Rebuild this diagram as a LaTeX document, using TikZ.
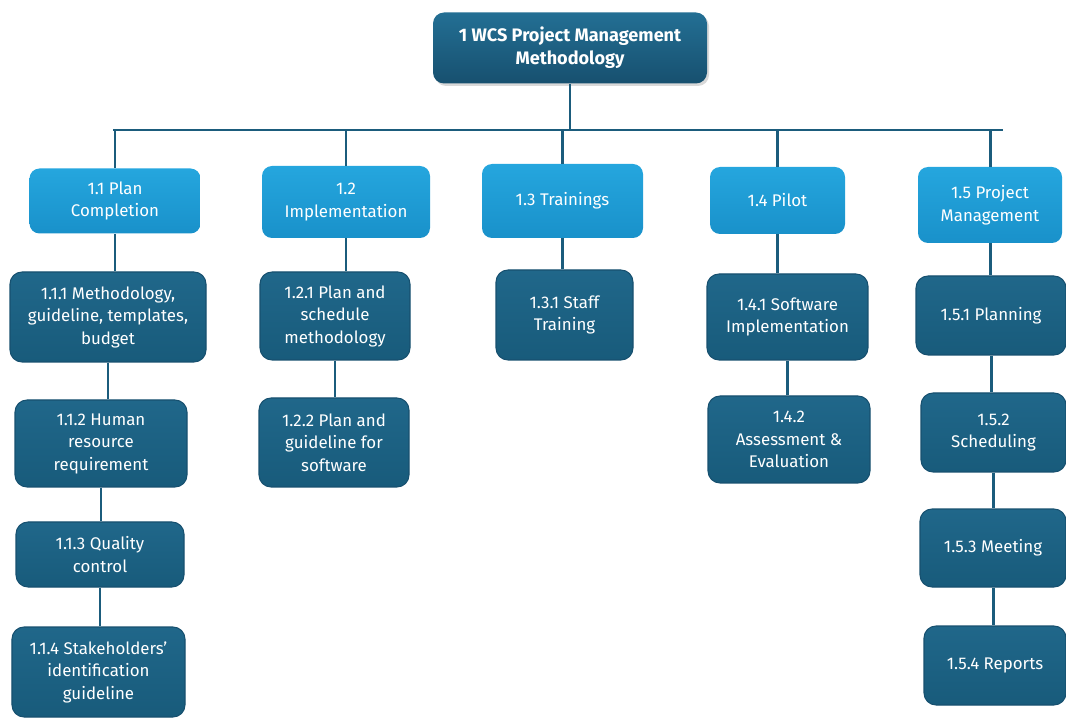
\documentclass[tikz,border=0pt]{standalone}
\usepackage{fontspec}
\setmainfont{Fira Sans}
\usetikzlibrary{shadows}
\definecolor{rootTop}{HTML}{236F94}
\definecolor{rootBot}{HTML}{17506F}
\definecolor{lightTop}{HTML}{25A6DE}
\definecolor{lightBot}{HTML}{1991CA}
\definecolor{darkTop}{HTML}{20678A}
\definecolor{darkBot}{HTML}{185B7B}
\definecolor{linkBlue}{HTML}{1B5C7C}
\tikzset{
  rootbox/.style={rounded corners=0.22cm, top color=rootTop, bottom color=rootBot,
    text=white, align=center, inner sep=0pt, font=\fontsize{10.3}{13}\selectfont\bfseries,
    drop shadow={opacity=0.3, shadow xshift=0.04cm, shadow yshift=-0.05cm}},
  lightbox/.style={rounded corners=0.2cm, top color=lightTop, bottom color=lightBot,
    text=white, align=center, inner sep=0pt, font=\fontsize{9.6}{12.8}\selectfont},
  darkbox/.style={rounded corners=0.24cm, top color=darkTop, bottom color=darkBot,
    draw=rootBot, line width=0.6pt,
    text=white, align=center, inner sep=0pt, font=\fontsize{9.6}{12.8}\selectfont},
  link/.style={draw=linkBlue, line width=1.7pt}
}
\begin{document}
\begin{tikzpicture}
\useasboundingbox (0,0) rectangle (21.32,-14.38);
% top
\node[rootbox, minimum width=5.48cm, minimum height=1.42cm] (root) at (11.40,-0.96) {1 WCS Project Management\\Methodology};
% second level
\node[lightbox, minimum width=3.42cm, minimum height=1.30cm] (p11) at (2.30,-4.02) {1.1 Plan\\Completion};
\node[lightbox, minimum width=3.36cm, minimum height=1.44cm] (p12) at (6.92,-4.04) {1.2\\Implementation};
\node[lightbox, minimum width=3.22cm, minimum height=1.48cm] (p13) at (11.25,-4.02) {1.3 Trainings};
\node[lightbox, minimum width=2.70cm, minimum height=1.34cm] (p14) at (15.55,-4.01) {1.4 Pilot};
\node[lightbox, minimum width=2.88cm, minimum height=1.52cm] (p15) at (19.80,-4.10) {1.5 Project\\Management};
% work packages
\node[darkbox, minimum width=3.92cm, minimum height=1.80cm] (c111) at (2.16,-6.34) {1.1.1 Methodology,\\guideline, templates,\\budget};
\node[darkbox, minimum width=3.44cm, minimum height=1.74cm] (c112) at (2.02,-8.87) {1.1.2 Human\\resource\\requirement};
\node[darkbox, minimum width=3.36cm, minimum height=1.30cm] (c113) at (2.00,-11.09) {1.1.3 Quality\\control};
\node[darkbox, minimum width=3.46cm, minimum height=1.80cm] (c114) at (1.97,-13.44) {1.1.4 Stakeholders’\\identification\\guideline};
\node[darkbox, minimum width=3.00cm, minimum height=1.76cm] (c121) at (6.70,-6.32) {1.2.1 Plan and\\schedule\\methodology};
\node[darkbox, minimum width=3.00cm, minimum height=1.78cm] (c122) at (6.68,-8.85) {1.2.2 Plan and\\guideline for\\software};
\node[darkbox, minimum width=2.74cm, minimum height=1.80cm] (c131) at (11.29,-6.30) {1.3.1 Staff\\Training};
\node[darkbox, minimum width=3.22cm, minimum height=1.72cm] (c141) at (15.75,-6.34) {1.4.1 Software\\Implementation};
\node[darkbox, minimum width=3.24cm, minimum height=1.74cm] (c142) at (15.78,-8.79) {1.4.2\\Assessment \&\\Evaluation};
\node[darkbox, minimum width=3.00cm, minimum height=1.58cm] (c151) at (19.82,-6.31) {1.5.1 Planning};
\node[darkbox, minimum width=2.90cm, minimum height=1.58cm] (c152) at (19.87,-8.65) {1.5.2\\Scheduling};
\node[darkbox, minimum width=2.92cm, minimum height=1.56cm] (c153) at (19.86,-10.96) {1.5.3 Meeting};
\node[darkbox, minimum width=2.84cm, minimum height=1.58cm] (c154) at (19.90,-13.31) {1.5.4 Reports};
% bus
\coordinate (busL) at (2.26,-2.60);
\coordinate (busR) at (20.06,-2.60);
\draw[link] (busL) -- (busR);
\draw[link] (root.south) -- (root.south |- busL);
\foreach \n in {p11,p12,p13,p14,p15}
  \draw[link] (\n.north) -- (\n.north |- busL);
% chains
\draw[link] (p11.south) -- (p11.south |- c111.north);
\draw[link] (c111.south) -- (c111.south |- c112.north);
\draw[link] (c112.south) -- (c112.south |- c113.north);
\draw[link] (c113.south) -- (c113.south |- c114.north);
\draw[link] (p12.south) -- (p12.south |- c121.north);
\draw[link] (c121.south) -- (c121.south |- c122.north);
\draw[link] (p13.south) -- (p13.south |- c131.north);
\draw[link] (p14.south) -- (p14.south |- c141.north);
\draw[link] (c141.south) -- (c141.south |- c142.north);
\draw[link] (p15.south) -- (p15.south |- c151.north);
\draw[link] (c151.south) -- (c151.south |- c152.north);
\draw[link] (c152.south) -- (c152.south |- c153.north);
\draw[link] (c153.south) -- (c153.south |- c154.north);
\end{tikzpicture}
\end{document}
